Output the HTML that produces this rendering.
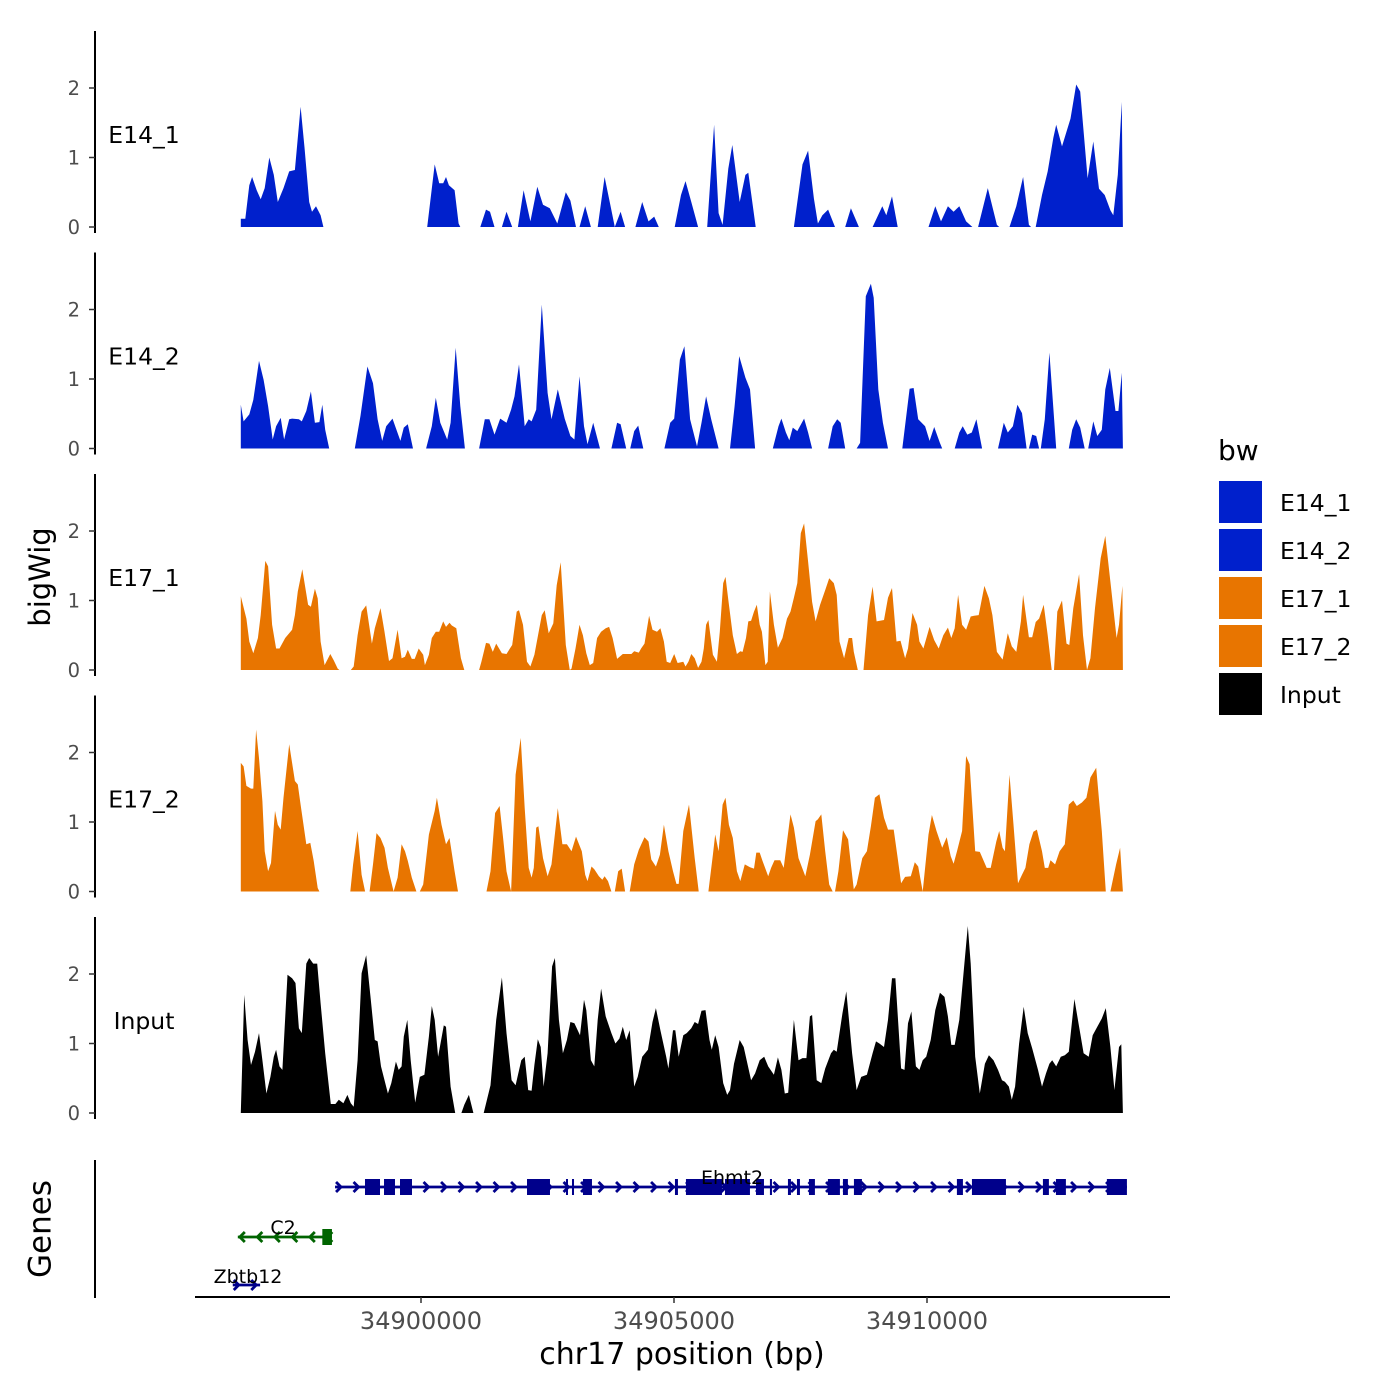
<!DOCTYPE html>
<html><head><meta charset="utf-8"><style>
html,body{margin:0;padding:0;background:#fff;}
svg{display:block;font-family:"DejaVu Sans","Liberation Sans",sans-serif;}
</style></head><body>
<svg id="chart" width="1400" height="1400" viewBox="0 0 1400 1400" xmlns="http://www.w3.org/2000/svg">
<rect width="1400" height="1400" fill="#fff"/>
<g id="tracks"></g>
<g id="genes"></g>
<g id="axes"></g>
<text x="42" y="577" font-size="29" text-anchor="middle" transform="rotate(-90 42 577)" dominant-baseline="middle">bigWig</text>
<text x="42" y="1229" font-size="31" text-anchor="middle" transform="rotate(-90 42 1229)" dominant-baseline="middle">Genes</text>
<text x="682" y="1364" font-size="30" text-anchor="middle">chr17 position (bp)</text>
<g>
<text x="1218" y="460" font-size="28">bw</text>
<rect x="1219" y="481" width="43" height="42" fill="#0020CC"/>
<rect x="1219" y="529" width="43" height="42" fill="#0020CC"/>
<rect x="1219" y="577" width="43" height="42" fill="#E87500"/>
<rect x="1219" y="625" width="43" height="42" fill="#E87500"/>
<rect x="1219" y="673" width="43" height="42" fill="#000"/>
<text x="1280" y="511" font-size="23.5">E14_1</text>
<text x="1280" y="559" font-size="23.5">E14_2</text>
<text x="1280" y="607" font-size="23.5">E17_1</text>
<text x="1280" y="655" font-size="23.5">E17_2</text>
<text x="1280" y="703" font-size="23.5">Input</text>
</g>
</svg>
<script>
const regionStart = 34896325;
const xTicks = [34900000, 34905000, 34910000];
const yTicks = [0, 1, 2];
const trackNames = ["E14_1", "E14_2", "E17_1", "E17_2", "Input"];

const e14_1_pos = [113,203,282,338,428,507,586,676,766,845,958,1071,1183,1296,1375,1465,1521,1600,1690,1747,null,3798,3945,4035,4114,4170,4226,4339,4418,4452,null,4846,4959,5038,5128,null,5274,5365,5477,null,5590,5703,5838,5973,6086,6221,6368,6537,6627,6739,null,6807,6920,7032,null,7168,7303,7416,7506,7619,7709,null,7912,8047,8171,8283,8374,null,8689,8813,8903,9016,9151,null,9332,9467,9557,9636,9749,9827,9974,10087,10143,10290,null,11045,11214,11326,11439,11518,11608,11721,11856,null,12059,12172,12329,null,12600,12791,12870,12983,13096,null,13705,13840,13952,14088,14200,14313,14448,14572,null,14685,14876,15057,15102,null,15305,15440,15575,15688,15733,null,15823,15947,16060,16172,16229,16342,16510,16623,16702,16849,16961,17074,17187,17300,17356,17446,17525,17547];
const e14_1_val = [0.12,0.12,0.6,0.72,0.53,0.4,0.56,1.0,0.75,0.36,0.56,0.8,0.82,1.73,1.13,0.36,0.22,0.3,0.17,0,null,0,0.9,0.63,0.63,0.72,0.6,0.53,0.05,0,null,0,0.25,0.22,0,null,0,0.22,0,null,0,0.53,0.08,0.58,0.32,0.27,0.05,0.5,0.38,0,null,0,0.3,0,null,0,0.72,0.32,0,0.22,0,null,0,0.36,0.08,0.15,0,null,0,0.46,0.66,0.36,0,null,0,1.47,0.2,0.03,0.84,1.18,0.36,0.75,0.78,0,null,0,0.9,1.1,0.41,0.05,0.17,0.25,0,null,0,0.27,0,null,0,0.3,0.17,0.44,0,null,0,0.3,0.08,0.3,0.22,0.3,0.08,0,null,0,0.56,0.03,0,null,0,0.3,0.72,0.03,0,null,0,0.46,0.8,1.28,1.47,1.16,1.56,2.05,1.95,0.7,1.23,0.55,0.46,0.24,0.17,0.75,1.8,0];

const e14_2_pos = [113,169,282,361,473,564,654,744,811,902,969,1071,1127,1262,1319,1409,1499,1578,1668,1724,1781,1860,null,2367,2479,2615,2727,2818,2908,2987,3111,3268,3336,3415,3516,null,3775,3888,3967,4057,4192,4260,4361,4452,4542,null,4824,4936,5026,5128,5241,5365,5455,5522,5612,5725,5804,5860,5951,6063,6176,6255,6379,6514,6627,6706,6807,6897,6965,7078,7213,null,7438,7551,7619,7731,null,7810,7889,7968,8069,null,8486,8599,8678,8791,8881,8993,9129,9219,9309,9410,9557,null,9782,9873,9963,10087,10177,10278,null,10628,10740,10797,10887,10954,11022,11112,11247,11326,11405,null,11721,11811,11901,11969,12059,null,12284,12352,12465,12566,12622,12713,12803,12904,null,13186,13332,13411,13501,13637,13727,13817,13930,13975,null,14223,14313,14381,14471,14561,14651,14764,null,15079,15192,15271,15372,15462,15553,15643,null,15688,15755,15834,15891,null,15925,16003,16094,16229,null,16477,16544,16623,16702,16792,null,16860,16961,17040,17130,17198,17288,17401,17457,17525,17547];
const e14_2_val = [0.63,0.39,0.49,0.7,1.26,0.99,0.61,0.13,0.32,0.44,0.13,0.42,0.43,0.42,0.39,0.54,0.82,0.37,0.38,0.63,0.27,0,null,0,0.47,1.18,0.94,0.42,0.11,0.32,0.43,0.11,0.3,0.35,0,null,0,0.32,0.73,0.37,0.13,0.37,1.45,0.61,0,null,0,0.42,0.42,0.2,0.43,0.37,0.56,0.75,1.21,0.32,0.42,0.39,0.56,2.07,0.8,0.42,0.85,0.43,0.18,0.13,1.04,0.32,0.06,0.37,0,null,0,0.37,0.35,0,null,0,0.25,0.33,0,null,0,0.37,0.43,1.28,1.47,0.42,0.03,0.37,0.75,0.42,0,null,0,0.61,1.33,1.02,0.85,0,null,0,0.32,0.43,0.23,0.12,0.3,0.25,0.43,0.23,0,null,0,0.32,0.42,0.37,0,null,0,0.08,2.19,2.37,2.17,0.85,0.37,0,null,0,0.86,0.87,0.42,0.32,0.11,0.31,0.08,0,null,0,0.23,0.32,0.2,0.23,0.42,0,null,0,0.37,0.23,0.32,0.63,0.51,0,null,0,0.2,0.18,0,null,0,0.42,1.38,0,null,0,0.27,0.42,0.3,0,null,0,0.39,0.18,0.27,0.85,1.16,0.54,0.54,1.09,0];

const e17_1_pos = [113,225,282,361,451,507,597,654,733,811,879,992,1071,1127,1183,1240,1330,1443,1499,1578,1634,1690,1769,1882,1950,2029,2062,null,2288,2344,2423,2502,2592,2705,2761,2874,2953,3043,3111,3212,3291,3358,3415,3494,3550,3629,3719,3753,3832,3888,3967,4035,4114,4170,4238,4283,4373,4463,4531,null,4824,4869,4959,5026,5094,5162,5274,5365,5432,5477,5567,5612,5691,5770,5838,5917,6063,6120,6199,6289,6356,6435,6537,6615,6649,6728,6807,6875,6942,7010,7078,7156,7235,7326,7393,7461,7551,7664,7731,7833,7889,7979,8024,8092,8182,8250,8340,8407,8475,8531,8599,8678,8746,8858,8903,8960,9016,9084,9151,9219,9264,9309,9354,9444,9523,9580,9647,9692,9749,9838,9918,9985,10030,10098,10143,10199,10256,10312,10368,10413,10481,10526,10571,10650,10729,10819,10909,10977,11045,11112,11180,11247,11326,11405,11473,11563,11664,11743,11834,11890,11946,12036,12127,12194,12228,12307,null,12420,12510,12600,12679,12825,12904,12983,13073,13152,13242,13299,13389,13479,13524,13603,13727,13817,13907,13997,14088,14155,14223,14290,14369,14448,14538,14606,14696,14809,14899,14967,15057,15169,15271,15350,15440,15530,15575,15688,15755,15823,15891,15981,16060,16139,null,16184,16251,16342,16432,16488,16567,16680,16758,16837,16905,16995,17108,17198,17300,17423,17469,17536,17547];
const e17_1_val = [1.06,0.74,0.41,0.24,0.46,0.79,1.57,1.49,0.65,0.31,0.31,0.46,0.53,0.58,0.79,1.13,1.45,0.94,0.91,1.17,1.03,0.41,0.07,0.23,0.14,0.02,0,null,0,0.05,0.5,0.84,0.93,0.38,0.6,0.89,0.55,0.13,0.17,0.58,0.17,0.19,0.29,0.16,0.16,0.31,0.22,0.07,0.22,0.46,0.55,0.55,0.7,0.62,0.68,0.64,0.6,0.17,0,null,0,0.12,0.39,0.38,0.26,0.38,0.24,0.23,0.31,0.36,0.84,0.86,0.65,0.12,0.05,0.22,0.79,0.86,0.53,0.67,1.22,1.55,0.36,0,0.02,0.31,0.65,0.5,0.24,0.07,0.1,0.46,0.55,0.6,0.62,0.46,0.16,0.23,0.23,0.23,0.27,0.25,0.31,0.38,0.78,0.58,0.55,0.6,0.41,0.12,0.1,0.23,0.1,0.12,0.05,0.12,0.23,0.17,0.03,0.12,0.31,0.65,0.72,0.22,0.12,0.55,1.25,1.34,1.01,0.5,0.23,0.27,0.26,0.46,0.7,0.71,0.84,0.94,0.65,0.55,0.07,0.12,1.13,0.65,0.32,0.46,0.74,0.84,1.04,1.25,1.97,2.11,1.56,0.98,0.7,0.94,1.15,1.32,1.25,1.08,0.41,0.17,0.46,0.46,0.26,0,null,0,0.79,1.2,0.7,0.72,1.04,1.18,0.41,0.42,0.17,0.31,0.82,0.65,0.41,0.31,0.62,0.43,0.31,0.5,0.61,0.46,0.6,1.08,0.65,0.58,0.77,0.78,0.79,1.21,1.03,0.79,0.26,0.15,0.53,0.34,0.26,0.7,1.08,0.47,0.47,0.69,0.74,0.94,0.5,0,null,0,0.84,1.0,0.38,0.36,0.89,1.38,0.5,0,0.17,0.89,1.61,1.93,1.27,0.46,0.65,1.21,0];

const e17_2_pos = [113,169,225,316,361,417,473,541,586,654,710,789,845,902,958,1071,1183,1240,1296,1409,1488,1555,1634,1668,null,2277,2333,2423,2502,2570,null,2660,2727,2795,2874,2953,3020,3133,3212,3291,3358,3415,3494,3584,null,3651,3719,3832,3945,3990,4080,4170,4238,4339,4407,null,4970,5049,5139,5229,5297,5365,5455,5545,5646,5725,5804,5860,5905,5951,5996,6086,6176,6255,6379,6469,6559,6649,6739,6852,6920,6965,7044,7100,7190,7258,7303,7371,7438,null,7506,7573,7641,7709,null,7799,7889,7979,8092,8171,8227,8317,8396,8475,8565,8655,8723,8768,8858,8971,9084,9163,null,9354,9444,9489,9557,9636,9692,9760,9838,9918,9985,10075,10177,10256,10301,10368,10425,10537,10594,10661,10774,10842,10909,10977,11045,11135,11270,11360,11473,11518,11586,11664,11743,11811,null,11856,11924,12014,12115,12172,12228,12284,12397,12487,12566,12645,12735,12825,12904,13017,13096,13163,13242,13355,13433,13501,13591,13704,13772,13862,13975,14065,14144,14200,14268,14369,14448,14516,14628,14718,14854,14933,15045,15102,15169,15215,15305,15384,15474,15553,15620,15699,15778,15846,15947,16003,16071,16116,16206,16296,16398,16477,16567,16635,16736,16826,16905,17018,17130,17209,null,17300,17412,17491,17547];
const e17_2_val = [1.85,1.8,1.52,1.48,1.48,2.33,1.92,1.3,0.58,0.29,0.41,1.16,0.96,0.89,1.35,2.12,1.59,1.54,1.25,0.68,0.7,0.44,0.05,0,null,0,0.39,0.87,0.24,0,null,0,0.39,0.84,0.77,0.63,0.34,0,0.2,0.68,0.58,0.44,0.2,0,null,0,0.1,0.82,1.16,1.35,0.96,0.68,0.77,0.29,0,null,0,0.29,1.13,1.23,0.77,0.29,0,1.68,2.21,1.2,0.34,0.2,0.34,0.92,0.94,0.48,0.22,0.39,1.2,0.68,0.68,0.58,0.79,0.58,0.24,0.15,0.36,0.32,0.22,0.17,0.22,0.15,0,null,0,0.29,0.33,0,null,0,0.39,0.6,0.78,0.72,0.46,0.36,0.53,0.96,0.58,0.29,0.11,0.11,0.87,1.25,0.48,0,null,0,0.53,0.82,0.58,1.25,1.35,0.96,0.77,0.29,0.15,0.39,0.35,0.33,0.56,0.56,0.44,0.22,0.34,0.45,0.45,0.34,0.72,1.11,0.92,0.48,0.22,0.53,1.01,1.04,1.11,0.58,0.1,0,null,0,0.29,0.88,0.75,0.39,0.03,0.1,0.48,0.58,0.94,1.35,1.4,1.06,0.89,0.89,0.48,0.12,0.21,0.22,0.42,0.36,0,0.82,1.1,0.87,0.63,0.78,0.51,0.4,0.58,0.87,1.95,1.83,0.58,0.57,0.34,0.34,0.72,0.87,0.63,0.58,1.68,0.96,0.12,0.24,0.34,0.68,0.86,0.89,0.58,0.34,0.34,0.45,0.39,0.58,0.68,1.25,1.31,1.23,1.28,1.35,1.64,1.78,0.87,0,null,0,0.39,0.63,0];

const input_pos = [113,180,248,316,394,473,541,620,699,766,811,879,935,1037,1127,1195,1262,1319,1409,1465,1544,1623,1690,1781,1893,1984,2051,2141,2220,2288,2344,2423,2502,2592,2682,2761,2818,2885,3020,3088,3178,3234,3291,3336,3404,3471,3561,3651,3742,3832,3888,3945,4012,4125,4170,4260,4350,null,4474,4531,4621,4711,null,4914,5049,5162,5274,5365,5466,5545,5658,5725,5793,5860,5917,5984,6041,6097,6176,6266,6322,6401,6480,6559,6627,6706,6818,6897,6942,7032,7100,7168,7235,7326,7438,7517,7596,7664,7731,7799,7889,7957,8047,8159,8250,8317,8407,8520,8565,8655,8700,8768,8858,8926,9016,9084,9151,9219,9298,9377,9422,9489,9557,9647,9726,9782,9861,9974,10053,10199,10278,10368,10458,10537,10650,10729,10797,10864,10932,11045,11135,11214,11292,11360,11405,11495,11586,11664,11777,11834,11890,12003,12081,12194,12284,12374,12487,12600,12667,12735,12825,12904,12983,13051,13163,13231,13299,13366,13456,13524,13591,13659,13749,13840,13930,14020,14088,14155,14223,14313,14482,14538,14628,14718,14820,14899,14989,15079,15158,15215,15293,15350,15417,15496,15586,15665,15755,15868,15947,16026,16094,16150,16229,16319,16398,16477,16589,16680,16770,16871,16950,17040,17130,17209,17300,17378,17469,17514,17547];
const input_val = [0,1.7,1.05,0.69,0.88,1.15,0.76,0.28,0.52,0.81,0.91,0.67,0.62,1.99,1.94,1.87,1.22,1.15,2.15,2.23,2.15,2.15,1.58,0.86,0.13,0.13,0.19,0.14,0.26,0.14,0.09,0.76,2.01,2.27,1.63,1.05,1.03,0.67,0.28,0.43,0.74,0.62,0.67,1.1,1.34,0.76,0.15,0.52,0.55,1.1,1.54,1.34,0.81,1.26,1.24,0.38,0,null,0,0.12,0.26,0,null,0,0.4,1.34,1.95,1.15,0.47,0.4,0.76,0.81,0.33,0.32,0.69,1.06,0.95,0.38,0.86,2.11,2.23,1.34,0.86,1.05,1.31,1.29,1.12,1.63,1.48,0.76,0.67,1.34,1.79,1.39,1.15,1.0,1.07,1.24,1.05,1.19,0.38,0.52,0.81,0.91,1.31,1.51,1.19,0.81,0.64,1.19,1.19,0.81,1.12,1.15,1.22,1.31,1.28,1.47,1.48,1.05,0.91,1.12,0.95,0.43,0.26,0.33,0.71,1.05,0.95,0.47,0.57,0.76,0.81,0.67,0.55,0.8,0.62,0.28,0.29,1.34,0.76,0.79,0.79,1.39,1.41,0.47,0.43,0.64,0.86,0.91,0.88,1.43,1.75,0.86,0.33,0.52,0.55,0.86,1.03,1.0,0.95,1.34,1.94,1.94,0.64,0.62,1.29,1.46,0.67,0.62,0.76,0.81,1.05,1.48,1.73,1.67,1.39,0.98,0.98,1.34,2.69,2.15,0.81,0.28,0.71,0.83,0.76,0.62,0.47,0.45,0.38,0.19,0.38,1.0,1.53,1.15,0.93,0.62,0.38,0.57,0.71,0.76,0.67,0.81,0.83,0.88,1.64,1.24,0.86,0.81,1.12,1.24,1.36,1.51,0.95,0.33,0.95,0.99,0];

// genes (genomic bp)
const ehmt2Span = [34898301, 34913951];
const ehmt2ExonStart = [34898893,34899269,34899585,34902095,34902865,34902984,34903201,34905019,34905236,34906007,34906620,34906896,34907252,34907430,34907667,34908042,34908339,34908556,34910591,34910888,34912291,34912548,34913555];
const ehmt2ExonEnd = [34899190,34899486,34899822,34902549,34902905,34903024,34903379,34905078,34905948,34906501,34906778,34906936,34907311,34907489,34907785,34908279,34908437,34908714,34910710,34911560,34912409,34912745,34913951];
const c2Span = [34896380, 34898240];
const c2ExonStart = [34898050];
const c2ExonEnd = [34898240];
const zbtb12Span = [34896280, 34896820];

const NS = "http://www.w3.org/2000/svg";
function xScale(bp){ return 421 + (bp - 34900000) * 0.0506; }
function panelBase(k){ return 227 + k * 221.5; }
function yScale(k, v){ return panelBase(k) - v * 69.5; }
function mk(tag, attrs, parent){
  const e = document.createElementNS(NS, tag);
  for (const a in attrs) e.setAttribute(a, attrs[a]);
  parent.appendChild(e);
  return e;
}

const tracksG = document.getElementById('tracks');
const axesG = document.getElementById('axes');
const genesG = document.getElementById('genes');
const trackPos = [e14_1_pos, e14_2_pos, e17_1_pos, e17_2_pos, input_pos];
const trackVal = [e14_1_val, e14_2_val, e17_1_val, e17_2_val, input_val];
const trackColor = ["#0020CC", "#0020CC", "#E87500", "#E87500", "#000000"];

for (let k = 0; k < 5; k++) {
  const pos = trackPos[k], val = trackVal[k];
  const base = panelBase(k);
  let segs = [], cur = [];
  const n = Math.min(pos.length, val.length);
  for (let i = 0; i < n; i++) {
    if (pos[i] === null || val[i] === null) { if (cur.length) segs.push(cur); cur = []; continue; }
    cur.push([xScale(regionStart + pos[i]), yScale(k, val[i])]);
  }
  if (cur.length) segs.push(cur);
  let d = "";
  segs.forEach(s => {
    d += "M" + s[0][0].toFixed(1) + "," + base;
    s.forEach(p => { d += "L" + p[0].toFixed(1) + "," + p[1].toFixed(1); });
    d += "L" + s[s.length-1][0].toFixed(1) + "," + base + "Z";
  });
  const area = mk('path', {d: d, fill: trackColor[k]}, tracksG);
  
  

  const ax = mk('line', {x1: 95, x2: 95, y1: base - 196, y2: base + 6, stroke: '#000', 'stroke-width': 2}, axesG);
  
  
  yTicks.forEach(t => {
    const y = yScale(k, t);
    const tk = mk('line', {x1: 89, x2: 95, y1: y, y2: y, stroke: '#333', 'stroke-width': 1.5}, axesG);
    
    
    const tl = mk('text', {x: 80, y: y + 7, 'font-size': 19.5, fill: '#4d4d4d', 'text-anchor': 'end'}, axesG);
    tl.textContent = t;
    
    
  });
  const lbl = mk('text', {x: 144, y: base - 84, 'font-size': 23.5, 'text-anchor': 'middle'}, axesG);
  lbl.textContent = trackNames[k];
  
  
}

const ga = mk('line', {x1: 95, x2: 95, y1: 1160, y2: 1298, stroke: '#000', 'stroke-width': 2}, axesG);


const xa = mk('line', {x1: 195, x2: 1170, y1: 1297, y2: 1297, stroke: '#000', 'stroke-width': 2}, axesG);


xTicks.forEach(t => {
  const x = xScale(t);
  const tk = mk('line', {x1: x, x2: x, y1: 1297, y2: 1303, stroke: '#333', 'stroke-width': 1.5}, axesG);
  
  
  const tl = mk('text', {x: x, y: 1329, 'font-size': 24, fill: '#4d4d4d', 'text-anchor': 'middle'}, axesG);
  tl.textContent = t;
  
  
});

function drawGene(name, span, exS, exE, y, color, dir, labelX, labelY){
  const g = mk('g', {}, genesG);
  
  
  const x1 = xScale(span[0]), x2 = xScale(span[1]);
  mk('line', {x1: x1, x2: x2, y1: y, y2: y, stroke: color, 'stroke-width': 2.8}, g);
  for (let x = x1 + 4; x < x2 - 2; x += 17.5) {
    const pts = dir > 0 ? `${x-3},${y-5} ${x+2},${y} ${x-3},${y+5}` : `${x+3},${y-5} ${x-2},${y} ${x+3},${y+5}`;
    mk('polyline', {points: pts, fill: 'none', stroke: color, 'stroke-width': 2.8}, g);
  }
  for (let i = 0; i < exS.length; i++) {
    const a = xScale(exS[i]), b = xScale(exE[i]);
    mk('rect', {x: a, y: y - 8, width: Math.max(2, b - a), height: 16, fill: color}, g);
  }
  const t = mk('text', {x: labelX, y: labelY, 'font-size': 19, 'text-anchor': 'middle'}, g);
  t.textContent = name;
}
drawGene('Ehmt2', ehmt2Span, ehmt2ExonStart, ehmt2ExonEnd, 1187, '#00008B', 1, 732, 1184);
drawGene('C2', c2Span, c2ExonStart, c2ExonEnd, 1237, '#006400', -1, 283, 1234);
drawGene('Zbtb12', zbtb12Span, [], [], 1285, '#00008B', 1, 248, 1283);
</script>
</body></html>
